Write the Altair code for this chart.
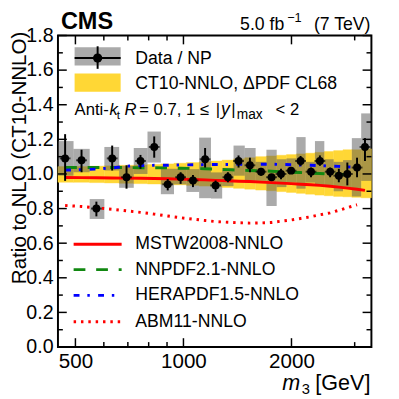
import altair as alt
import pandas as pd

# ---------------- data ----------------
m_edges = [447, 494, 548, 602, 662, 727, 794, 865, 941, 1019, 1106, 1193, 1282, 1379,
           1482, 1589, 1703, 1819, 1937, 2064, 2190, 2325, 2469, 2622, 2784, 2946, 3128, 3340]
m_pts = [468, 520, 572, 633, 694, 759, 829, 904, 982, 1063, 1149, 1229, 1330, 1424,
         1532, 1645, 1760, 1870, 1995, 2120, 2267, 2400, 2563, 2710, 2862, 3046, 3205]
ratio = [1.09, 1.079, 0.80, 1.09, 0.981, 1.075, 1.156, 0.94, 0.981, 0.962, 1.085, 0.934, 0.981, 1.075,
         1.05, 1.013, 0.981, 1.0, 1.019, 1.075, 1.013, 1.075, 1.013, 0.99, 1.0, 1.037, 1.156]
stat_lo = [0.96, 1.01, 0.755, 1.02, 0.915, 1.03, 1.094, 0.905, 0.943, 0.924, 1.037, 0.896, 0.952, 1.037,
           1.01, 0.99, 0.965, 0.97, 1.0, 1.047, 0.981, 1.047, 0.981, 0.952, 0.934, 0.981, 1.075]
stat_hi = [1.23, 1.14, 0.84, 1.164, 1.05, 1.11, 1.217, 0.971, 1.01, 0.994, 1.15, 0.962, 1.01, 1.107,
           1.094, 1.035, 1.0, 1.03, 1.04, 1.104, 1.037, 1.107, 1.037, 1.03, 1.066, 1.094, 1.207]
syst_lo = [0.99, 1.01, 0.74, 1.02, 0.92, 1.0, 1.066, 0.883, 0.94, 0.896, 0.86, 0.858, 0.93, 0.99,
           0.95, 0.96, 0.815, 0.924, 0.95, 0.915, 0.95, 0.934, 0.934, 0.9, 0.92, 0.87, 0.96]
syst_hi = [1.19, 1.145, 0.855, 1.156, 1.047, 1.15, 1.245, 1.03, 1.03, 1.028, 1.21, 1.009, 1.035, 1.164,
           1.15, 1.07, 1.14, 1.085, 1.09, 1.213, 1.07, 1.19, 1.085, 1.07, 1.08, 1.207, 1.35]
ct10_lo = [0.952, 0.952, 0.95, 0.948, 0.946, 0.944, 0.942, 0.94, 0.937, 0.934, 0.93, 0.926, 0.922, 0.917,
           0.912, 0.907, 0.903, 0.898, 0.893, 0.888, 0.883, 0.878, 0.874, 0.87, 0.868, 0.865, 0.862]
ct10_hi = [1.043, 1.043, 1.045, 1.047, 1.05, 1.052, 1.055, 1.058, 1.062, 1.066, 1.07, 1.075, 1.08, 1.087,
           1.094, 1.10, 1.104, 1.108, 1.112, 1.116, 1.12, 1.125, 1.13, 1.135, 1.14, 1.14, 1.145]
mstw = [0.980, 0.979, 0.978, 0.977, 0.976, 0.975, 0.974, 0.972, 0.970, 0.968, 0.966, 0.963, 0.961, 0.958,
        0.956, 0.953, 0.950, 0.947, 0.944, 0.941, 0.938, 0.934, 0.929, 0.924, 0.918, 0.912, 0.905]
nnpdf = [1.037, 1.037, 1.037, 1.037, 1.037, 1.036, 1.036, 1.035, 1.033, 1.032, 1.030, 1.028, 1.025, 1.022,
         1.020, 1.018, 1.016, 1.013, 1.010, 1.008, 1.005, 1.003, 1.000, 0.998, 0.996, 0.995]
herapdf = [1.022, 1.025, 1.028, 1.035, 1.045, 1.048, 1.05, 1.05, 1.052, 1.053, 1.054, 1.055, 1.055, 1.056,
           1.056, 1.056, 1.056, 1.055, 1.053, 1.052, 1.05, 1.048, 1.046, 1.044, 1.041, 1.038]
abm11 = [0.818, 0.812, 0.804, 0.796, 0.787, 0.778, 0.768, 0.757, 0.747, 0.739, 0.731, 0.725, 0.721, 0.718,
         0.716, 0.717, 0.72, 0.727, 0.734, 0.743, 0.753, 0.764, 0.775, 0.79, 0.805, 0.822]

x_major = [500, 1000, 2000]
x_minor = [600, 700, 800, 900, 3000]
y_major = [0.0, 0.2, 0.4, 0.6, 0.8, 1.0, 1.2, 1.4, 1.6, 1.8]
y_minor = [0.1, 0.3, 0.5, 0.7, 0.9, 1.1, 1.3, 1.5, 1.7]

# ---------------- tables ----------------
bins = pd.DataFrame({
    "lo": m_edges[:-1], "hi": m_edges[1:],
    "m": m_pts, "r": ratio,
    "stat_lo": stat_lo, "stat_hi": stat_hi,
    "syst_lo": syst_lo, "syst_hi": syst_hi,
    "ct_lo": ct10_lo, "ct_hi": ct10_hi,
})

def curve(vals):
    return pd.DataFrame({"m": m_pts[:len(vals)], "r": vals})

W, H = 320, 318
FONT = "Liberation Sans"

xs = alt.Scale(type="log", domain=[447, 3340], nice=False)
ys = alt.Scale(domain=[0, 1.8], nice=False, zero=False)
xaxis = alt.Axis(values=x_major, format="d", ticks=False, tickSize=0, domain=False, grid=False,
                 labelFont=FONT, labelFontSize=21, labelColor="black", labelPadding=4,
                 labelFlush=False, title=None)
yaxis = alt.Axis(values=y_major, format=".1f", ticks=False, tickSize=0, domain=False, grid=False,
                 labelFont=FONT, labelFontSize=20, labelColor="black", labelPadding=5, title=None)

def X(f):
    return alt.X(f, type="quantitative", scale=xs, axis=xaxis)

def Y(f):
    return alt.Y(f, type="quantitative", scale=ys, axis=yaxis)

layers = []
# CT10 PDF band
layers.append(alt.Chart(bins).mark_rect(color="#FFD735", stroke="#FFD735", strokeWidth=0.4)
              .encode(x=X("lo"), x2="hi", y=Y("ct_lo"), y2="ct_hi"))
# systematic boxes
layers.append(alt.Chart(bins).mark_rect(color="#555555", opacity=0.5)
              .encode(x=X("lo"), x2="hi", y=Y("syst_lo"), y2="syst_hi"))
# theory curves
layers.append(alt.Chart(curve(mstw)).mark_line(color="#ff0000", strokeWidth=3)
              .encode(x=X("m"), y=Y("r")))
layers.append(alt.Chart(curve(nnpdf)).mark_line(color="#118811", strokeWidth=3, strokeDash=[12, 11])
              .encode(x=X("m"), y=Y("r")))
layers.append(alt.Chart(curve(herapdf)).mark_line(color="#0000ff", strokeWidth=3, strokeDash=[6, 8, 2.5, 8.5])
              .encode(x=X("m"), y=Y("r")))
layers.append(alt.Chart(curve(abm11)).mark_line(color="#ff0000", strokeWidth=3, strokeDash=[2.5, 5])
              .encode(x=X("m"), y=Y("r")))
# data points
layers.append(alt.Chart(bins).mark_rule(color="black", strokeWidth=2)
              .encode(x=X("m"), y=Y("stat_lo"), y2="stat_hi"))
layers.append(alt.Chart(bins).mark_tick(color="black", orient="horizontal", size=11, thickness=2)
              .encode(x=X("m"), y=Y("r")))
layers.append(alt.Chart(bins).mark_point(filled=True, shape="circle", size=65, color="black", opacity=1)
              .encode(x=X("m"), y=Y("r")))

# inside ticks (ROOT style)
def yticks(vals, x0, x1):
    return alt.Chart(pd.DataFrame({"v": vals})).mark_rule(color="black", strokeWidth=1.5).encode(
        y=Y("v"), x=alt.value(x0), x2=alt.value(x1))

def xticks(vals, y0, y1):
    return alt.Chart(pd.DataFrame({"v": vals})).mark_rule(color="black", strokeWidth=1.5).encode(
        x=X("v"), y=alt.value(y0), y2=alt.value(y1))

layers += [yticks(y_major, 0, 9), yticks(y_minor, 0, 5),
           yticks(y_major, W - 9, W), yticks(y_minor, W - 5, W),
           xticks(x_major, H, H - 9), xticks(x_minor, H, H - 5),
           xticks(x_major, 0, 9), xticks(x_minor, 0, 5)]

one = pd.DataFrame({"k": [0]})

def txt(s, x, y, size=18, align="left", baseline="middle", **kw):
    return alt.Chart(one).mark_text(text=s, font=FONT, fontSize=size, align=align, baseline=baseline,
                                    color="black", **kw).encode(x=alt.value(x), y=alt.value(y))

# legend (upper)
layers.append(alt.Chart(one).mark_rect(color="#555555", opacity=0.5).encode(
    x=alt.value(17), x2=alt.value(64), y=alt.value(12), y2=alt.value(30.7)))
layers.append(alt.Chart(one).mark_rule(color="black", strokeWidth=2).encode(
    x=alt.value(17), x2=alt.value(64), y=alt.value(23)))
layers.append(alt.Chart(one).mark_rule(color="black", strokeWidth=2).encode(
    x=alt.value(40.5), y=alt.value(11), y2=alt.value(34)))
layers.append(alt.Chart(one).mark_point(filled=True, shape="circle", size=90, color="black", opacity=1).encode(
    x=alt.value(40.5), y=alt.value(23)))
layers.append(alt.Chart(one).mark_rect(color="#FFD735").encode(
    x=alt.value(17), x2=alt.value(64), y=alt.value(38.7), y2=alt.value(57.3)))
layers.append(txt("Data / NP", 79, 24))
layers.append(txt("CT10-NNLO, \u0394PDF CL68", 79, 49.5))

# Anti-kt line
bl = 81
layers += [
    txt("Anti-", 17, bl, 17, baseline="alphabetic"),
    txt("k", 52.5, bl, 17, baseline="alphabetic", fontStyle="italic"),
    txt("t", 60, bl + 4, 12, baseline="alphabetic"),
    txt("R", 68, bl, 17, baseline="alphabetic", fontStyle="italic"),
    txt("= 0.7, 1 \u2264", 83, bl, 17, baseline="alphabetic"),
    txt("|", 161, bl, 17, baseline="alphabetic"),
    txt("y", 166.5, bl, 18, baseline="alphabetic", fontStyle="italic"),
    txt("|", 177, bl, 17, baseline="alphabetic"),
    txt("max", 182.5, bl + 4, 14, baseline="alphabetic"),
    txt("<", 222, bl, 17, baseline="alphabetic"),
    txt("2", 237, bl, 17, baseline="alphabetic"),
]

# legend (lower)
leg_lines = [("MSTW2008-NNLO", 213, "#ff0000", None),
             ("NNPDF2.1-NNLO", 239, "#118811", [12, 11]),
             ("HERAPDF1.5-NNLO", 265.3, "#0000ff", [6, 8, 2.5, 8.5]),
             ("ABM11-NNLO", 292.3, "#ff0000", [2.5, 5])]
for name, yy, col, dash in leg_lines:
    kw = {"strokeDash": dash} if dash else {}
    layers.append(alt.Chart(one).mark_rule(color=col, strokeWidth=3, **kw).encode(
        x=alt.value(16), x2=alt.value(65), y=alt.value(yy)))
    layers.append(txt(name, 79, yy))

# header
layers += [
    txt("CMS", 3, -7, 24, baseline="alphabetic", fontWeight="bold"),
    txt("(7 TeV)", 319, -6, 18, align="right", baseline="alphabetic"),
    txt("\u22121", 234, -14, 13, baseline="alphabetic"),
    txt("5.0 fb", 231, -6, 18, align="right", baseline="alphabetic"),
]

# axis titles
layers += [
    txt("m", 229, 361.5, 22, baseline="alphabetic", fontStyle="italic"),
    txt("3", 249, 365.5, 15, baseline="alphabetic"),
    txt("[GeV]", 319, 361.5, 22, align="right", baseline="alphabetic"),
    txt("Ratio to NLO (CT10-NNLO)", -49.5, -4, 21, align="right", baseline="top", angle=270),
]

chart = alt.layer(*layers).properties(
    width=W, height=H,
    autosize=alt.AutoSizeParams(type="none"),
    padding={"left": 51, "top": 24, "right": 20, "bottom": 50},
).configure_view(stroke="black", strokeWidth=2)

chart.save("out.html", embed_options={"renderer": "svg", "actions": False})
